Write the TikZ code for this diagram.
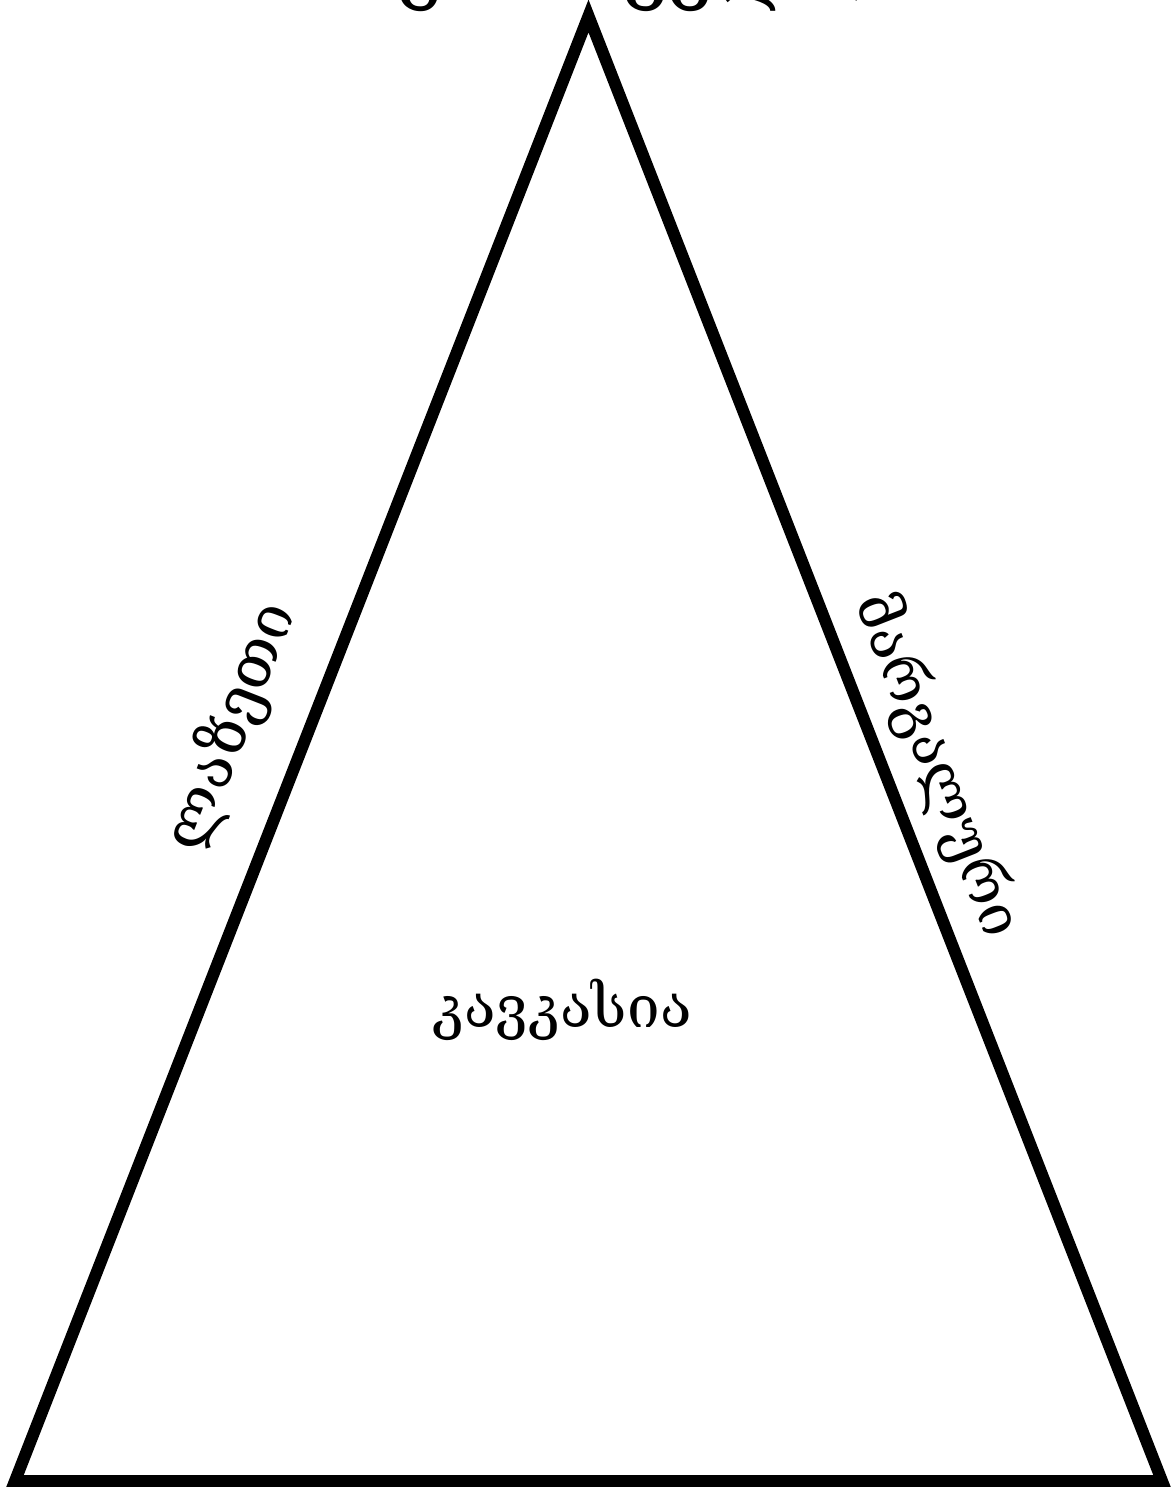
\documentclass[tikz,border=0pt]{standalone}
\usepackage{fontspec}
\setmainfont{DejaVu Serif}
\usetikzlibrary{positioning, calc}

\begin{document}
\begin{tikzpicture}[
        x=0.01cm, y=-0.01cm,
        side_line/.style={
            draw=black,
            line width=3.4pt,
            miter limit=10
        },
        region_label/.style={
            font=\fontsize{16.6}{20}\selectfont,
            inner sep=0pt
        },
        top_label/.style={
            font=\fontsize{23}{27}\selectfont,
            inner sep=0pt,
            anchor=base
        }
    ]

    % Page frame
    \useasboundingbox (0,0) rectangle (1172,1488);

    % Corners of the triangle
    \coordinate (apex) at (588.5,16);
    \coordinate (base_left) at (15,1481);
    \coordinate (base_right) at (1162,1481);

    % The triangle
    \draw[side_line] (base_left) -- (apex) -- (base_right) -- cycle;

    % Heading above the apex (mostly outside the page)
    \node[top_label] (top_name) at (585,-6) {საქართველო};

    % Labels along the sides
    \node[region_label, font=\fontsize{17.6}{21}\selectfont, rotate=68.6] (left_name) at (231,727) {ლაზეთი};
    \node[region_label, rotate=-68.6] (right_name) at (937,765) {მარგალური};

    % Label in the middle
    \node[region_label] (centre_name) at (562,1010) {კავკასია};

\end{tikzpicture}
\end{document}
